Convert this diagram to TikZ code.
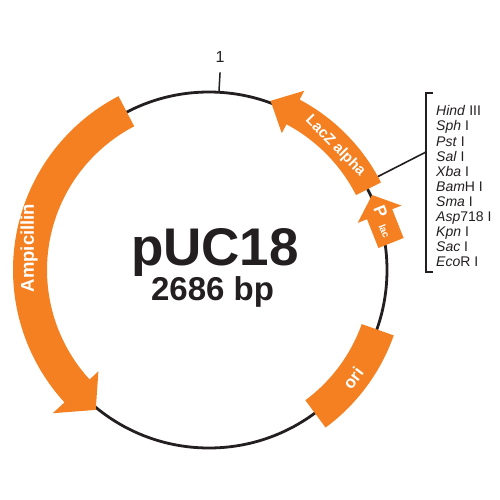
\documentclass[tikz,border=0pt]{standalone}
\usepackage{fontspec}
\setmainfont{Liberation Sans}
\usetikzlibrary{calc}
\definecolor{plorange}{RGB}{244,128,33}
\definecolor{txtgray}{RGB}{35,31,32}
\begin{document}
\begin{tikzpicture}[x=1pt,y=1pt,
  backbone/.style={line width=2.8pt, draw=txtgray},
  feature/.style={fill=plorange, draw=none},
  ftext/.style={text=white, inner sep=0pt},
  enz/.style={anchor=base west, text=txtgray, font=\fontsize{14}{14}\selectfont, inner sep=0pt},
]
\useasboundingbox (0,0) rectangle (500,-500);
\fill[white] (0,0) rectangle (500,-500);
\coordinate (C) at (209,-270);
\draw[backbone] (C) circle[radius=178];
% position 1 tick
\coordinate (tb) at ($(C)+(86.8:178)$);
\coordinate (tt) at ($(C)+(86.8:198)$);
\draw[line width=1.5pt, txtgray] (tb) -- (tt);
\node[anchor=base, font=\fontsize{16}{16}\selectfont, text=txtgray, inner sep=0pt] (one) at (220,-63) {1};

% connector LacZ -> bracket
\coordinate (lz) at ($(C)+(29:188)$);
\coordinate (bm) at (426,-152);
\draw[line width=1.6pt, txtgray] (lz) -- (bm);

% Ampicillin
\path[feature] ($(C)+(117.5:196)$) arc[start angle=117.5, end angle=222.5, radius=196]
  -- ($(C)+(222.5:212)$) -- ($(C)+(231:180)$) -- ($(C)+(222.5:150)$)
  -- ($(C)+(222.5:162)$) arc[start angle=222.5, end angle=117.5, radius=162] -- cycle;
% LacZ alpha
\path[feature] ($(C)+(27:193)$) arc[start angle=27, end angle=62, radius=193]
  -- ($(C)+(62:203)$) -- ($(C)+(70:180)$) -- ($(C)+(62:155)$)
  -- ($(C)+(62:165)$) arc[start angle=62, end angle=27, radius=165] -- cycle;
% ori
\path[feature] ($(C)+(-53.5:196)$) arc[start angle=-53.5, end angle=-19.5, radius=196]
  -- ($(C)+(-19.5:162)$) arc[start angle=-19.5, end angle=-53.5, radius=162] -- cycle;
% P lac
\path[feature] (378.4,-248.0) -- (403.6,-238.0) -- (392.2,-209.2) -- (401.5,-205.6)
  -- (372,-195) -- (357.7,-222.9) -- (367.0,-219.2) -- cycle;

% feature labels
\node[ftext, rotate=90, font=\bfseries\fontsize{18.5}{18.5}\selectfont] (amp) at (29,-248) {Ampicillin};
\node[ftext, rotate=-45.5, font=\bfseries\fontsize{15}{15}\selectfont] (lacz) at ($(C)+(44.5:177)$) {LacZ alpha};
\node[ftext, rotate=53, font=\bfseries\fontsize{17}{17}\selectfont] (ori) at (353,-378) {ori};
\node[ftext, rotate=-68, font=\bfseries\fontsize{17}{17}\selectfont] (pP) at (380.7,-211.7) {P};
\node[ftext, rotate=-68, font=\bfseries\fontsize{10}{10}\selectfont] (plac) at (384.3,-231.3) {lac};

% title
\node[anchor=base, text=txtgray, font=\bfseries\fontsize{53}{53}\selectfont, inner sep=0pt] (name) at (215,-265) {pUC18};
\node[anchor=base, text=txtgray, font=\bfseries\fontsize{33}{33}\selectfont, inner sep=0pt] (size) at (212.5,-300) {2686 bp};

% bracket
\coordinate (bt) at (426,-93);
\coordinate (bb) at (426,-272);
\draw[line width=1.8pt, txtgray] ($(bt)+(7,0)$) -- (bt) -- (bb) -- ($(bb)+(7,0)$);

% enzyme list
\node[enz] (e1) at (436,-116) {\textit{Hind} III};
\node[enz] (e2) at (436,-131) {\textit{Sph} I};
\node[enz] (e3) at (436,-146) {\textit{Pst} I};
\node[enz] (e4) at (436,-161) {\textit{Sal} I};
\node[enz] (e5) at (436,-176) {\textit{Xba} I};
\node[enz] (e6) at (436,-191) {\textit{Bam}H I};
\node[enz] (e7) at (436,-206) {\textit{Sma} I};
\node[enz] (e8) at (436,-221) {\textit{Asp}718 I};
\node[enz] (e9) at (436,-236) {\textit{Kpn} I};
\node[enz] (e10) at (436,-251) {\textit{Sac} I};
\node[enz] (e11) at (436,-266) {\textit{Eco}R I};
\end{tikzpicture}
\end{document}
